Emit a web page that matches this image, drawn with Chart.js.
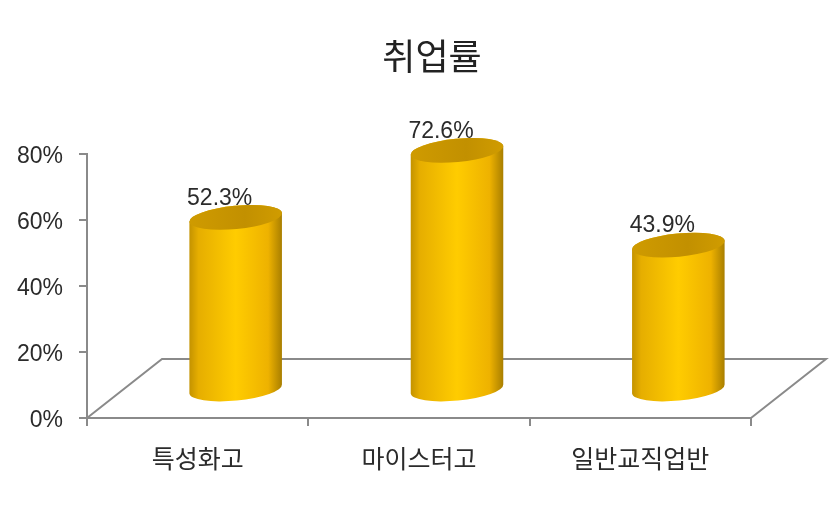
<!DOCTYPE html>
<html>
<head>
<meta charset="utf-8">
<style>
  html, body { margin: 0; padding: 0; background: #fff; }
  canvas { display: block; }
</style>
<script src="https://cdn.jsdelivr.net/npm/chart.js@4/dist/chart.umd.js"></script>
</head>
<body>
<canvas id="graph_plot" width="830" height="523"></canvas>
<script>
const titleText = "취업률";
const categories = ["특성화고", "마이스터고", "일반교직업반"];
const employmentRates = [52.3, 72.6, 43.9];

const axisColor = "#8a8a8a";
const textColor = "#2b2b2b";
const latinFont = "'Liberation Sans', Arial, sans-serif";
const koreanFont = "'Noto Sans CJK KR', sans-serif";

// fake 3d floor: how far the back edge sits from the front edge
const depthX = 75;
const depthY = 59;
const barLift = 28;
const tilt = -5.5 * Math.PI / 180;

function drawCylinder(ctx, bar) {
  const cx = bar.x + depthX / 2 + 0.5;
  const rx = bar.width / 2;
  const ry = rx * 0.25;
  const top = bar.y - barLift;
  const base = bar.base - barLift;

  const side = ctx.createLinearGradient(cx - rx, 0, cx + rx, 0);
  side.addColorStop(0, "#c39200");
  side.addColorStop(0.1, "#e6ae00");
  side.addColorStop(0.5, "#ffcc00");
  side.addColorStop(0.85, "#eeb200");
  side.addColorStop(1, "#a87e00");

  ctx.beginPath();
  ctx.ellipse(cx, base, rx, ry, tilt, 0, Math.PI);
  ctx.ellipse(cx, top, rx, ry, tilt, Math.PI, Math.PI * 2);
  ctx.closePath();
  ctx.fillStyle = side;
  ctx.fill();

  const cap = ctx.createLinearGradient(cx - rx, 0, cx + rx, 0);
  cap.addColorStop(0, "#cf9b00");
  cap.addColorStop(0.6, "#c29000");
  cap.addColorStop(1, "#d09c00");
  ctx.beginPath();
  ctx.ellipse(cx, top, rx, ry, tilt, 0, Math.PI * 2);
  ctx.fillStyle = cap;
  ctx.fill();
}

const cylinderPlugin = {
  id: "cylinders",
  beforeDatasetsDraw(chart) {
    const { ctx, chartArea } = chart;
    ctx.save();
    ctx.strokeStyle = axisColor;
    ctx.lineWidth = 2;
    ctx.beginPath();
    ctx.moveTo(chartArea.left, chartArea.bottom);
    ctx.lineTo(chartArea.left + depthX, chartArea.bottom - depthY);
    ctx.lineTo(chartArea.right + depthX, chartArea.bottom - depthY);
    ctx.lineTo(chartArea.right, chartArea.bottom);
    ctx.stroke();
    ctx.restore();
  },
  afterDatasetsDraw(chart) {
    const { ctx } = chart;
    const bars = chart.getDatasetMeta(0).data;
    ctx.save();
    // labels go first, the caps cover their lower edge
    ctx.fillStyle = textColor;
    ctx.font = "23px " + latinFont;
    ctx.textAlign = "center";
    ctx.textBaseline = "middle";
    bars.forEach((bar, i) => {
      ctx.fillText(employmentRates[i].toFixed(1) + "%", bar.x + 22, bar.y - barLift - 19);
    });
    bars.forEach(bar => drawCylinder(ctx, bar));
    // title sits right of the canvas centre
    ctx.fillStyle = "#222";
    ctx.font = "36px " + koreanFont;
    ctx.fillText(titleText, 432, 56);
    ctx.restore();
  }
};

new Chart(document.getElementById("graph_plot"), {
  type: "bar",
  data: {
    labels: categories,
    datasets: [{
      label: titleText,
      data: employmentRates,
      backgroundColor: "rgba(0, 0, 0, 0)",
      barPercentage: 0.42,
      categoryPercentage: 1
    }]
  },
  options: {
    responsive: false,
    animation: false,
    layout: { padding: { top: 154, right: 79, left: 0, bottom: 0 } },
    plugins: {
      legend: { display: false },
      tooltip: { enabled: false }
    },
    scales: {
      x: {
        afterFit(scale) { scale.height = 105; },
        grid: { drawOnChartArea: false, color: axisColor, tickLength: 8, lineWidth: 2 },
        border: { color: axisColor, width: 2 },
        ticks: {
          color: textColor,
          padding: 17,
          font: { family: koreanFont, size: 25 },
          maxRotation: 0
        }
      },
      y: {
        min: 0,
        max: 80,
        afterFit(scale) { scale.width = 87; },
        grid: { drawOnChartArea: false, color: axisColor, tickLength: 8, lineWidth: 2 },
        border: { color: axisColor, width: 2 },
        ticks: {
          stepSize: 20,
          color: textColor,
          padding: 16,
          labelOffset: 2.5,
          font: { family: latinFont, size: 23 },
          callback: value => value + "%"
        }
      }
    }
  },
  plugins: [cylinderPlugin]
});
</script>
</body>
</html>
